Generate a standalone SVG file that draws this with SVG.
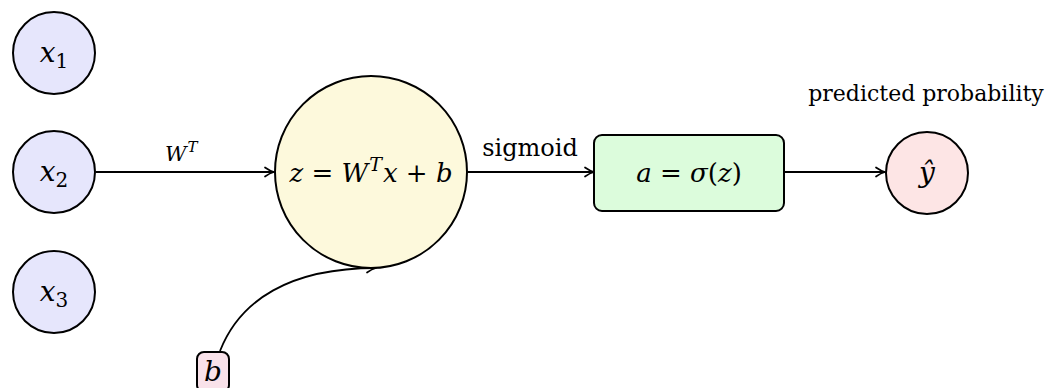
<svg xmlns="http://www.w3.org/2000/svg" width="1048" height="388" viewBox="0 0 1048 388">
<style>
.node{stroke:#000;stroke-width:2}
.in{fill:#e6e6fc}
.sum{fill:#fdf9dc}
.act{fill:#dcfcdc}
.out{fill:#fde5e5}
.bias{fill:#f9e2ea}
.conn{fill:none;stroke:#000;stroke-width:1.8}
.m{font-size:28px;text-anchor:middle}
.i{font-style:italic}
</style>
<defs>
<marker id="arr" markerUnits="userSpaceOnUse" markerWidth="14" markerHeight="14" refX="12" refY="7" orient="auto">
<path d="M3,2.5 Q8,6 12,7 Q8,8 3,11.5" fill="none" stroke="#000" stroke-width="1.7" stroke-linejoin="round" stroke-linecap="round"/>
</marker>
</defs>
<g font-family="DejaVu Serif, serif" fill="#000">
<g id="connectors">
<path class="conn" d="M96,172 L274,172" marker-end="url(#arr)"/>
<path class="conn" d="M468,172 L594,172" marker-end="url(#arr)"/>
<path class="conn" d="M784,172 L885,172" marker-end="url(#arr)"/>
<path class="conn" d="M220,351 C240,300 290,268 376,268" marker-end="url(#arr)"/>
<text x="165" y="161" font-size="21"><tspan class="i">W</tspan><tspan class="i" font-size="15" dx="1" dy="-9">T</tspan></text>
<text x="530" y="156" font-size="24" text-anchor="middle">sigmoid</text>
</g>
<g id="x1">
<circle class="node in" cx="54" cy="53" r="41"/>
<text class="m" x="54" y="62"><tspan class="i">x</tspan><tspan font-size="20" dy="6">1</tspan></text>
</g>
<g id="x2">
<circle class="node in" cx="54" cy="172" r="41"/>
<text class="m" x="54" y="181"><tspan class="i">x</tspan><tspan font-size="20" dy="6">2</tspan></text>
</g>
<g id="x3">
<circle class="node in" cx="54" cy="292" r="41"/>
<text class="m" x="54" y="301"><tspan class="i">x</tspan><tspan font-size="20" dy="6">3</tspan></text>
</g>
<g id="z">
<circle class="node sum" cx="371" cy="172" r="96"/>
<text x="371" y="182" font-size="26" text-anchor="middle"><tspan class="i">z</tspan> = <tspan class="i">W</tspan><tspan class="i" font-size="19" dx="1" dy="-11">T</tspan><tspan class="i" dx="1" dy="11">x</tspan> + <tspan class="i">b</tspan></text>
</g>
<g id="a">
<rect class="node act" x="594" y="135" width="190" height="76" rx="8"/>
<text x="689" y="182" font-size="26" text-anchor="middle"><tspan class="i">a</tspan> = <tspan class="i">σ</tspan>(<tspan class="i">z</tspan>)</text>
</g>
<g id="yhat">
<circle class="node out" cx="927" cy="173" r="41"/>
<text class="m" x="927" y="182"><tspan class="i">ŷ</tspan></text>
<text x="926" y="101" font-size="22" text-anchor="middle">predicted probability</text>
</g>
<g id="b">
<rect class="node bias" x="197" y="352" width="32" height="40" rx="7"/>
<text class="m" x="213" y="381"><tspan class="i">b</tspan></text>
</g>
</g>
</svg>
